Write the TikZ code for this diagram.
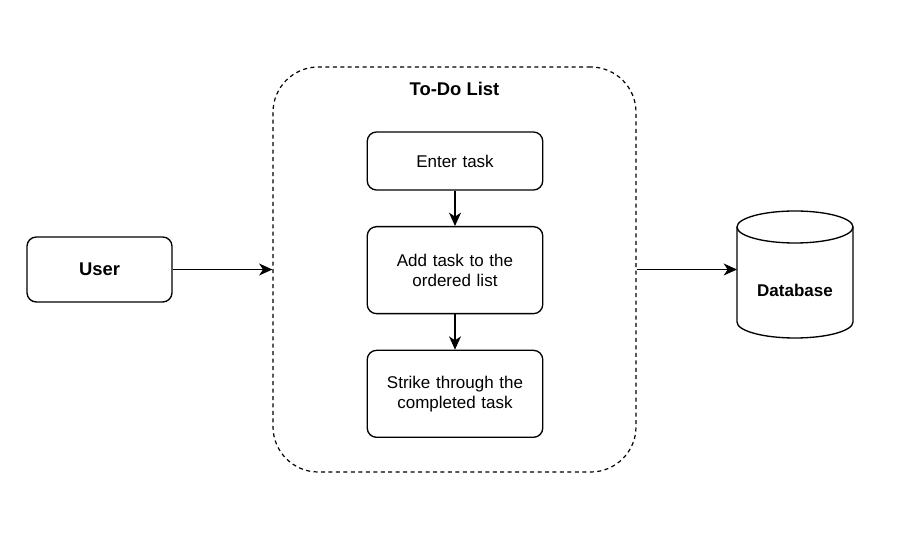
\documentclass[tikz,border=0pt]{standalone}
\usepackage{fontspec}
\setmainfont{Liberation Sans}
\usetikzlibrary{positioning, arrows.meta}
\tikzstyle{frame} = [rectangle, rounded corners=34pt, minimum width=272.25pt, minimum height=303.75pt, draw=black, line width=0.9pt, dash pattern=on 3pt off 2.6pt]
\tikzstyle{actor} = [rectangle, rounded corners=7pt, minimum width=108.75pt, minimum height=48.75pt, text centered, draw=black, line width=1pt, font=\fontsize{13.8}{16}\selectfont\bfseries]
\tikzstyle{process} = [rectangle, rounded corners=7pt, minimum width=131.25pt, minimum height=65.25pt, text width=125pt, align=center, draw=black, line width=1pt, font=\fontsize{12.75}{15}\selectfont]
\tikzstyle{title} = [font=\fontsize{13.8}{16}\selectfont\bfseries]
\tikzstyle{store} = [draw=black, fill=white, line width=1pt]
\tikzstyle{arrow} = [line width=1pt, -{Stealth[length=10pt, width=9pt, inset=3pt]}]

\begin{document}
\begin{tikzpicture}[x=0.75pt, y=-0.75pt]
        \useasboundingbox (0,0) rectangle (908,555);
        \node (user) [actor] at (99.5,269.5) {User};
        \node (todo) [frame] at (454.5,269.5) {};
        \node (title) [title] at (454.5,89) {To-Do List};
        \node (enter) [process, minimum height=43.5pt] at (455,161) {Enter task};
        \node (add) [process, below=26.5pt of enter] {Add task to the\\ordered list};
        \node (strike) [process, below=26.5pt of add] {Strike through the\\completed task};
        % database cylinder
        \draw [store] (737,227) -- (737,322) arc (180:360:43.5pt and 12pt) -- (853,227);
        \draw [store] (795,227) ellipse (43.5pt and 12pt);
        \node (db) [font=\fontsize{12.75}{15}\selectfont\bfseries] at (795,290) {Database};
        \coordinate (dbin) at (737,270);
        \draw [arrow] (user) -- (todo.west);
        \draw [arrow] (todo.east) -- (todo.east -| dbin);
        \draw [arrow] (enter) -- (add);
        \draw [arrow] (add) -- (strike);
\end{tikzpicture}
\end{document}
